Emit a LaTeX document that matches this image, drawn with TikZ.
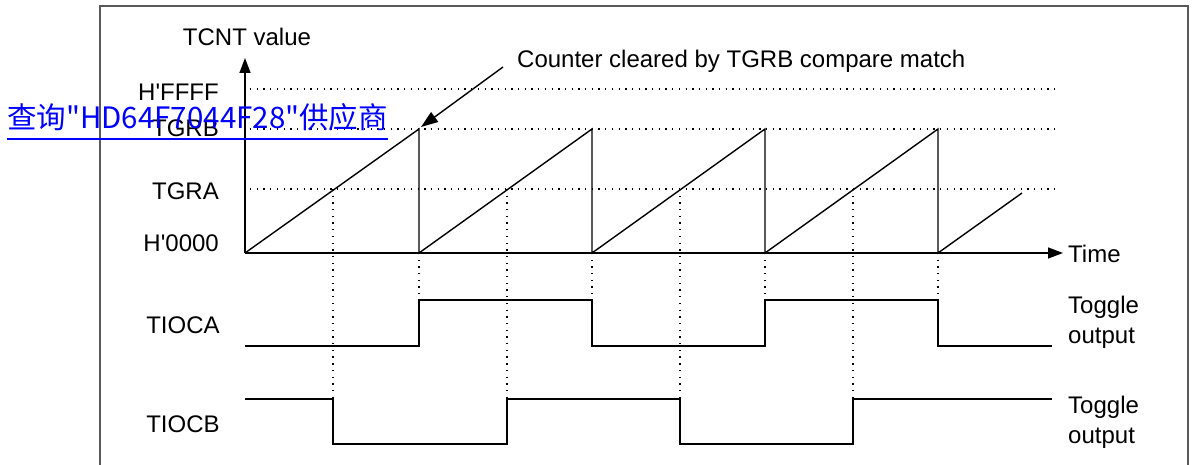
\documentclass[tikz,border=0pt]{standalone}
\usepackage{fontspec}
\usepackage{tikz}
\usetikzlibrary{arrows.meta,positioning}
\newfontfamily\arialfont{Liberation Sans}
\newfontfamily\cjkfont{Noto Sans CJK SC}
\definecolor{tdink}{HTML}{000000}
\definecolor{tdframe}{HTML}{5A5A5A}
\definecolor{tdlink}{HTML}{0000FF}
\tikzset{
  tlabel/.style    = {inner sep=0pt, text=tdink, font=\arialfont\fontsize{24}{30}\selectfont},
  wave/.style      = {line width=1.4pt, draw=tdink, line join=miter},
  guide/.style     = {line width=1.4pt, draw=tdink, dash pattern=on 1.3pt off 5.4pt},
  tarrow/.style    = {-{Triangle[length=15pt,width=11pt]}, line width=1.4pt, draw=tdink, fill=tdink},
  frameline/.style = {line width=1.6pt, draw=tdframe},
  linktext/.style  = {inner sep=0pt, text=tdlink, font=\cjkfont\fontsize{29.5}{34}\selectfont},
}

\begin{document}
\begin{tikzpicture}[x=1pt,y=-1pt]
\useasboundingbox (0,0) rectangle (1192,465);

% frame
\draw[frameline] (100,465) -- (100,6) -- (1188,6) -- (1188,465);

% axes
\coordinate (org)  at (245,253);
\coordinate (ytop) at (245,58);
\coordinate (tend) at (1063,253);
\draw[tarrow] (org) -- (ytop);
\draw[tarrow] (org) -- (tend);
\node[tlabel, anchor=base]      (lblcnt)  at (247,46)  {TCNT value};
\node[tlabel, anchor=base west] (lbltime) at (1068,262) {Time};

% level lines
\draw[guide] (250,89)  -- (1055,89);
\draw[guide] (250,129) -- (1055,129);
\draw[guide] (250,189) -- (1055,189);
\node[tlabel, anchor=base east] (lblffff) at (219,101) {H'FFFF};
\node[tlabel, anchor=base east] (lbltgrb) at (219,137) {TGRB};
\node[tlabel, anchor=base east] (lbltgra) at (219,200) {TGRA};
\node[tlabel, anchor=base east] (lblzero) at (219,252) {H'0000};

% counter
\coordinate (pk1) at (419,129);
\draw[wave] (org) -- (pk1) -- (419,253) -- (592,129) -- (592,253) -- (765,129)
  -- (765,253) -- (938,129) -- (938,253) -- (1022,193);

% note
\node[tlabel, anchor=base west] (lblnote) at (517,68) {Counter cleared by TGRB compare match};
\coordinate (notefoot) at (503,67);
\coordinate (notetip)  at (421,127);
\draw[tarrow, -{Triangle[length=17pt,width=12pt]}] (notefoot) -- (notetip);

% compare match guides
\draw[guide] (333,189) -- (333,399);
\draw[guide] (507,189) -- (507,399);
\draw[guide] (680,189) -- (680,399);
\draw[guide] (853,189) -- (853,399);
\draw[guide] (419,253) -- (419,300);
\draw[guide] (592,253) -- (592,300);
\draw[guide] (765,253) -- (765,300);
\draw[guide] (938,253) -- (938,300);

% TIOCA
\node[tlabel, anchor=base] (lbltioca) at (183,333) {TIOCA};
\draw[wave] (245,346) -- (419,346) -- (419,300) -- (592,300) -- (592,346) -- (765,346)
  -- (765,300) -- (938,300) -- (938,346) -- (1052,346);
\node[tlabel, anchor=west, align=left] (lbltoga) at (1068,322) {Toggle\\output};

% TIOCB
\node[tlabel, anchor=base] (lbltiocb) at (183,432) {TIOCB};
\draw[wave] (245,399) -- (333,399) -- (333,444) -- (507,444) -- (507,399) -- (680,399)
  -- (680,444) -- (853,444) -- (853,399) -- (1052,399);
\node[tlabel, anchor=west, align=left] (lbltogb) at (1068,422) {Toggle\\output};

% link overlay
\node[linktext, anchor=base west] (wmark) at (7,129) {查询"HD64F7044F28"供应商};
\draw[tdlink, line width=2pt] ([yshift=-10pt]wmark.base west) -- ([yshift=-10pt]wmark.base east);
\end{tikzpicture}
\end{document}
